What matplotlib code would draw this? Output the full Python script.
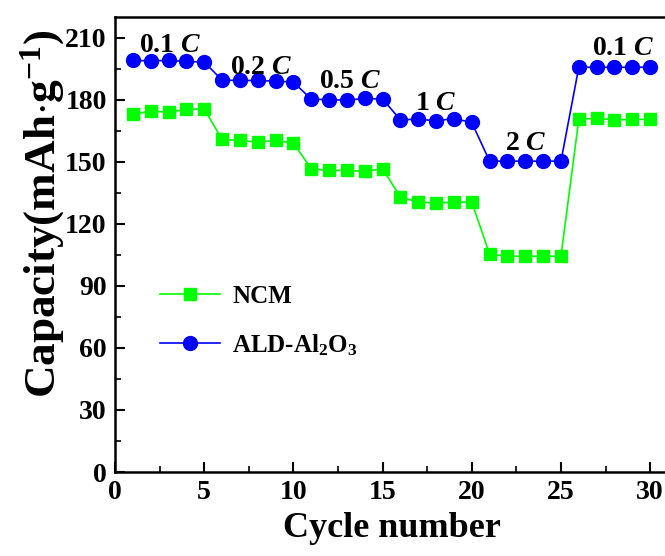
import matplotlib
matplotlib.use("Agg")
import matplotlib.pyplot as plt
from matplotlib.ticker import MultipleLocator

cycles = list(range(1, 31))
ncm = [172.9, 174.5, 174.0, 175.3, 175.6,
       160.8, 160.3, 159.5, 160.3, 159.0,
       146.6, 145.8, 145.9, 145.3, 146.6,
       132.9, 130.5, 130.0, 130.5, 130.5,
       105.3, 104.3, 104.3, 104.3, 104.3,
       170.5, 171.0, 170.3, 170.5, 170.5]
ald = [199.0, 198.8, 199.0, 198.5, 198.2,
       189.5, 189.3, 189.3, 189.0, 188.5,
       180.3, 180.0, 179.8, 180.6, 180.3,
       170.3, 170.6, 169.8, 170.9, 169.0,
       150.3, 150.3, 150.3, 150.3, 150.3,
       195.7, 195.7, 195.7, 195.7, 195.7]
rate_labels = ["0.1", "0.2", "0.5", "1", "2", "0.1"]
rate_x = [3.1, 8.2, 13.2, 18.0, 23.0, 28.5]
rate_y = [206, 195.5, 189, 178, 159, 205]
series_names = ["NCM", r"ALD-Al$_\mathbf{2}$O$_\mathbf{3}$"]

plt.rcParams['font.family'] = ['Liberation Serif', 'DejaVu Serif']
plt.rcParams['font.weight'] = 'bold'
plt.rcParams['mathtext.fontset'] = 'custom'
plt.rcParams['mathtext.rm'] = 'Liberation Serif:bold'
plt.rcParams['mathtext.bf'] = 'Liberation Serif:bold'
plt.rcParams['mathtext.it'] = 'Liberation Serif:bold:italic'

W, H = 665, 556
fig = plt.figure(figsize=(W / 100, H / 100), dpi=100)
left, right, top, bottom = 115, 668, 17, 472
ax = fig.add_axes([left / W, 1 - bottom / H, (right - left) / W, (bottom - top) / H])

ax.plot(cycles, ncm, color='#00ff00', marker='s', markersize=9, linewidth=1.2,
        label=series_names[0])
ax.plot(cycles, ald, color='#0000ff', marker='o', markersize=10, linewidth=1.2,
        label=series_names[1])

for lab, x, y in zip(rate_labels, rate_x, rate_y):
    ax.text(x, y, lab + r" $\mathit{C}$", ha='center', va='center', fontsize=20,
            fontweight='bold')

ax.set_xlim(0, 31)
ax.set_ylim(0, 220)
ax.xaxis.set_major_locator(MultipleLocator(5))
ax.xaxis.set_minor_locator(MultipleLocator(2.5))
ax.yaxis.set_major_locator(MultipleLocator(30))
ax.yaxis.set_minor_locator(MultipleLocator(15))
ax.tick_params(which='major', direction='in', length=7, width=1.5, labelsize=20, pad=6)
ax.tick_params(which='minor', direction='in', length=4, width=1.2)
for lab in ax.get_xticklabels() + ax.get_yticklabels():
    lab.set_fontweight('bold')
for s in ax.spines.values():
    s.set_linewidth(1.8)

ax.set_xlabel("Cycle number", fontsize=26, fontweight='bold', labelpad=5)
ax.set_ylabel(r"Capacity(mAh$\cdot$g$^{\mathbf{-1}}$)", fontsize=32.5, fontweight='bold')
ax.yaxis.set_label_coords(-0.086, 0.567)

leg = ax.legend(loc='upper left', bbox_to_anchor=(0.04, 0.46), frameon=False,
                handlelength=2.4, labelspacing=0.95, handletextpad=0.5,
                prop={'weight': 'bold', 'size': 18})

fig.savefig("out.png", dpi=100)
